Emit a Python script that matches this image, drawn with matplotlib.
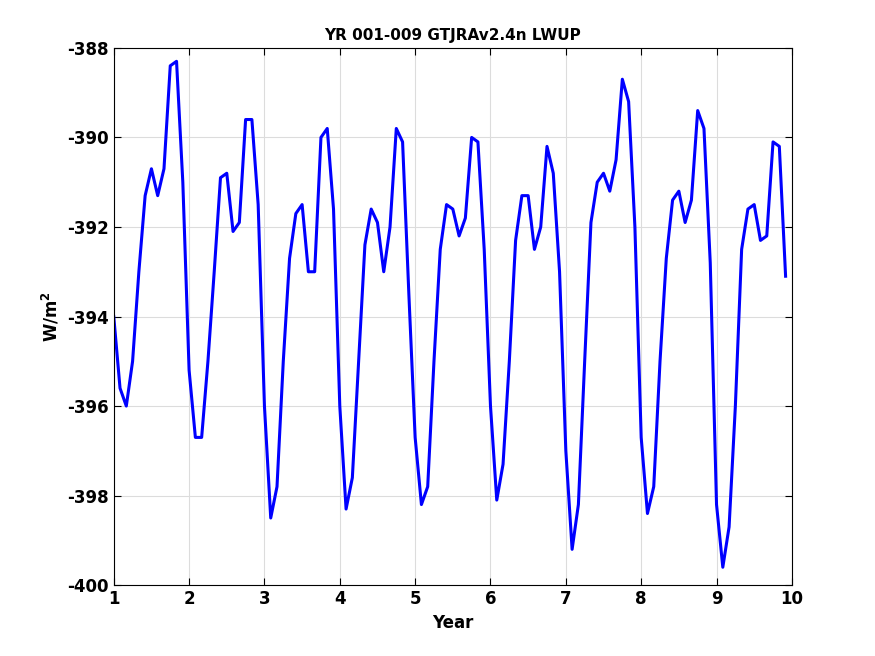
import numpy as np
import matplotlib
matplotlib.use("Agg")
import matplotlib.pyplot as plt

# monthly values, one row per model year
lwup = [
    [-394.0, -395.6, -396.0, -395.0, -393.0, -391.3, -390.7, -391.3, -390.7, -388.4, -388.3, -391.0],
    [-395.2, -396.7, -396.7, -395.0, -393.0, -390.9, -390.8, -392.1, -391.9, -389.6, -389.6, -391.5],
    [-396.0, -398.5, -397.8, -395.0, -392.7, -391.7, -391.5, -393.0, -393.0, -390.0, -389.8, -391.6],
    [-396.0, -398.3, -397.6, -395.0, -392.4, -391.6, -391.9, -393.0, -392.0, -389.8, -390.1, -393.5],
    [-396.7, -398.2, -397.8, -395.0, -392.5, -391.5, -391.6, -392.2, -391.8, -390.0, -390.1, -392.5],
    [-396.0, -398.1, -397.3, -395.0, -392.3, -391.3, -391.3, -392.5, -392.0, -390.2, -390.8, -393.0],
    [-397.0, -399.2, -398.2, -395.0, -391.9, -391.0, -390.8, -391.2, -390.5, -388.7, -389.2, -392.0],
    [-396.7, -398.4, -397.8, -395.0, -392.7, -391.4, -391.2, -391.9, -391.4, -389.4, -389.8, -392.8],
    [-398.2, -399.6, -398.7, -396.0, -392.5, -391.6, -391.5, -392.3, -392.2, -390.1, -390.2, -393.1],
]
years = np.arange(1, 10)
months = np.arange(12) / 12.0

x = (years[:, None] + months[None, :]).ravel()
y = np.array(lwup).ravel()

plt.rcParams['font.family'] = 'DejaVu Sans'
plt.rcParams['font.weight'] = 'bold'
plt.rcParams['axes.unicode_minus'] = False

fig = plt.figure(figsize=(8.75, 6.56), dpi=100)
ax = fig.add_axes([0.130, 0.108, 0.775, 0.819])
ax.plot(x, y, color='#0000ff', lw=2.2)

ax.set_xlim(1, 10)
ax.set_ylim(-400, -388)
ax.set_xticks(range(1, 11))
ax.set_yticks(range(-400, -387, 2))
ax.grid(True, color='#dcdcdc', lw=0.8)
ax.tick_params(direction='in', labelsize=12, length=5, top=True, right=True,
               labeltop=False, labelright=False)
for lab in ax.get_xticklabels() + ax.get_yticklabels():
    lab.set_fontweight('bold')
for s in ax.spines.values():
    s.set_linewidth(0.8)

ax.set_title('YR 001-009 GTJRAv2.4n LWUP', fontsize=11, fontweight='bold')
ax.set_xlabel('Year', fontsize=12, fontweight='bold')
ax.set_ylabel(r'W/m$^\mathbf{2}$', fontsize=12, fontweight='bold')

fig.savefig('out.png', dpi=100)
